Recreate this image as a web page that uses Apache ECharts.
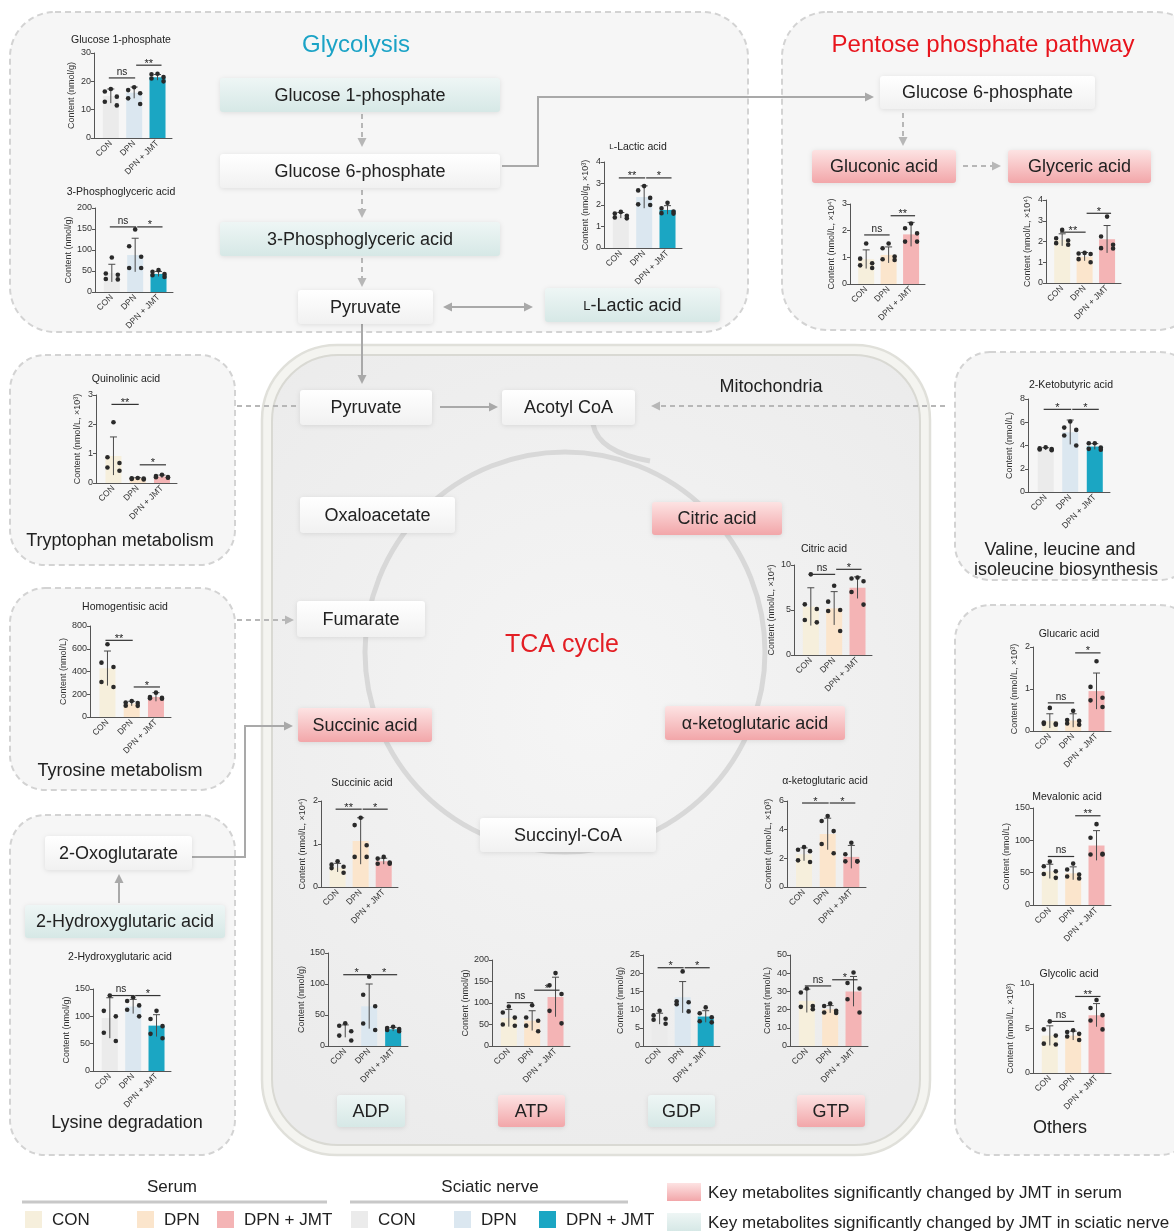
<!DOCTYPE html>
<html>
<head>
<meta charset="utf-8">
<title>Metabolic pathway overview</title>
<script src="https://cdn.jsdelivr.net/npm/echarts@6/dist/echarts.min.js"></script>
<style>
  html, body { margin: 0; padding: 0; background: #ffffff; }
  #main { width: 1174px; height: 1231px; }
</style>
</head>
<body>
<div id="main"></div>
<script>
// ---------- groups & palettes ----------
const GROUPS = ['CON', 'DPN', 'DPN + JMT'];
const SERUM = ['#f6efdc', '#fbe5cc', '#f4b4b5'];
const NERVE = ['#ebebeb', '#dbe7f0', '#1ba6c3'];

// ---------- measured values (mean, SD, individual animals, significance) ----------
// Glucose 1-phosphate, sciatic nerve (nmol/g)
const g1pMean = [14.8, 16.0, 21.4];
const g1pSd = [2.5, 2.0, 1.0];
const g1pDots = [[17.3, 16.4, 14.6, 12.8, 11.5], [17.9, 16.9, 15.8, 14.0, 12.0], [22.7, 22.5, 21.5, 21.0, 20.0]];
const g1pSig = ['ns', '**'];

// 3-Phosphoglyceric acid, sciatic nerve (nmol/g)
const pgaMean = [45, 88, 43];
const pgaSd = [21, 40, 6];
const pgaDots = [[82, 44, 41, 31, 30], [149, 109, 84, 57, 57], [52, 48, 43, 40, 36]];
const pgaSig = ['ns', '*'];

// L-Lactic acid, sciatic nerve (nmol/g, x10^3)
const lacMean = [1.52, 2.37, 1.77];
const lacSd = [0.13, 0.52, 0.2];
const lacDots = [[1.68, 1.6, 1.5, 1.42, 1.38], [2.88, 2.68, 2.33, 2.03, 2.0], [2.1, 1.85, 1.7, 1.62, 1.6]];
const lacSig = ['**', '*'];

// Gluconic acid, serum (nmol/L, x10^4)
const glnMean = [0.93, 1.09, 1.86];
const glnSd = [0.35, 0.3, 0.45];
const glnDots = [[1.52, 0.95, 0.78, 0.7, 0.6], [1.52, 1.34, 1.03, 0.93, 0.9], [2.27, 2.09, 1.9, 1.59, 1.59]];
const glnSig = ['ns', '**'];

// Glyceric acid, serum (nmol/L, x10^4)
const glyMean = [2.08, 1.27, 2.11];
const glySd = [0.29, 0.2, 0.66];
const glyDots = [[2.56, 2.16, 2.05, 1.92, 1.84], [1.45, 1.42, 1.4, 1.15, 1.0], [3.2, 2.24, 1.84, 1.68, 1.66]];
const glySig = ['**', '*'];

// Quinolinic acid, serum (nmol/L, x10^3)
const quiMean = [0.92, 0.15, 0.22];
const quiSd = [0.65, 0.03, 0.05];
const quiDots = [[2.07, 0.88, 0.68, 0.53, 0.42], [0.17, 0.16, 0.15, 0.14, 0.12], [0.28, 0.24, 0.2, 0.2, 0.18]];
const quiSig = ['**', '*'];

// Homogentisic acid, serum (nmol/L)
const hgaMean = [428, 118, 176];
const hgaSd = [152, 20, 38];
const hgaDots = [[639, 478, 440, 308, 264], [140, 128, 122, 100, 98], [214, 176, 168, 164, 160]];
const hgaSig = ['**', '*'];

// 2-Hydroxyglutaric acid, sciatic nerve (nmol/g)
const hgluMean = [97, 118, 83];
const hgluSd = [37, 13, 20];
const hgluDots = [[138, 110, 100, 70, 55], [135, 128, 120, 112, 100], [110, 95, 82, 68, 60]];
const hgluSig = ['ns', '*'];

// 2-Ketobutyric acid, sciatic nerve (nmol/L)
const kbaMean = [3.71, 5.14, 3.91];
const kbaSd = [0.1, 1.05, 0.25];
const kbaDots = [[3.85, 3.75, 3.7, 3.65, 3.6], [6.06, 5.54, 5.34, 4.86, 4.0], [4.2, 4.2, 3.83, 3.71, 3.63]];
const kbaSig = ['*', '*'];

// Citric acid, serum (nmol/L, x10^4)
const citMean = [5.37, 5.19, 7.48];
const citSd = [2.1, 1.85, 1.2];
const citDots = [[8.96, 5.63, 5.11, 3.89, 3.63], [7.7, 5.93, 5.0, 4.89, 2.67], [8.6, 8.5, 8.2, 7.0, 5.6]];
const citSig = ['ns', '*'];

// Glucaric acid, serum (nmol/L, x10^3)
const gcaMean = [0.24, 0.25, 0.95];
const gcaSd = [0.17, 0.16, 0.43];
const gcaDots = [[0.55, 0.2, 0.18, 0.17, 0.15], [0.48, 0.26, 0.24, 0.18, 0.15], [1.66, 1.05, 0.79, 0.73, 0.57]];
const gcaSig = ['ns', '*'];

// Mevalonic acid, serum (nmol/L)
const mevMean = [52, 49, 92];
const mevSd = [11, 10, 23];
const mevDots = [[67, 60, 52, 48, 42], [64, 55, 47, 44, 41], [125, 104, 79, 78, 78]];
const mevSig = ['ns', '**'];

// Glycolic acid, serum (nmol/L, x10^3)
const glcMean = [4.2, 4.2, 6.5];
const glcSd = [1.1, 0.5, 1.3];
const glcDots = [[5.8, 4.9, 4.2, 3.3, 3.2], [4.8, 4.6, 4.4, 4.1, 3.7], [8.2, 7.3, 6.5, 5.9, 4.9]];
const glcSig = ['ns', '**'];

// Succinic acid, serum (nmol/L, x10^4)
const sucMean = [0.45, 1.07, 0.6];
const sucSd = [0.1, 0.54, 0.07];
const sucDots = [[0.6, 0.52, 0.47, 0.44, 0.33], [1.61, 1.44, 0.97, 0.7, 0.7], [0.7, 0.66, 0.57, 0.54, 0.54]];
const sucSig = ['**', '*'];

// alpha-ketoglutaric acid, serum (nmol/L, x10^3)
const akgMean = [2.28, 3.7, 2.1];
const akgSd = [0.45, 1.1, 0.8];
const akgDots = [[2.79, 2.6, 2.5, 1.86, 1.74], [4.95, 4.6, 3.9, 3.0, 2.35], [3.09, 2.28, 1.79, 1.79, 1.79]];
const akgSig = ['*', '*'];

// ADP, sciatic nerve (nmol/g)
const adpMean = [24, 64, 27];
const adpSd = [10, 36, 3];
const adpDots = [[36.8, 32.6, 23.7, 16.8, 8.9], [111.6, 82.6, 64.2, 36.3, 25.8], [31, 28.9, 27.4, 25.8, 23.7]];
const adpSig = ['*', '*'];

// ATP, serum (nmol/g)
const atpMean = [65, 59, 114];
const atpSd = [20, 23, 46];
const atpDots = [[92, 78, 66, 50, 47], [94.7, 66.4, 58.8, 47.3, 34.4], [169.5, 141, 121, 81.7, 52.7]];
const atpSig = ['ns', '*'];

// GDP, sciatic nerve (nmol/g)
const gdpMean = [7.5, 13.4, 8.1];
const gdpSd = [1.5, 4.3, 1.6];
const gdpDots = [[9.7, 8.4, 7.5, 7.2, 6.1], [20.5, 12.3, 12.0, 11.5, 9.5], [10.6, 9.0, 7.9, 6.8, 6.5]];
const gdpSig = ['*', '*'];

// GTP, serum (nmol/L)
const gtpMean = [24.8, 20.2, 30];
const gtpSd = [6.4, 2.0, 8.2];
const gtpDots = [[31.6, 29.4, 22, 21.5, 20.2], [23.3, 22, 19.3, 18.4, 18.2], [40.4, 34.6, 31.6, 25.7, 18.4]];
const gtpSig = ['ns', '*'];

// ---------- panel layout (plot rectangle in px, axis range, bracket heights) ----------
const U_G = 'Content (nmol/g)';
const U_L = 'Content (nmol/L)';
const panels = [
  { title: 'Glucose 1-phosphate', tx: 121, ty: 40, l: 94, r: 172, t: 53, b: 138, max: 30, step: 10, unit: U_G, pal: NERVE, mean: g1pMean, sd: g1pSd, dots: g1pDots, sig: g1pSig, lv: [21.2, 25.7] },
  { title: '3-Phosphoglyceric acid', tx: 121, ty: 192, l: 95, r: 173, t: 208, b: 292, max: 200, step: 50, unit: U_G, pal: NERVE, mean: pgaMean, sd: pgaSd, dots: pgaDots, sig: pgaSig, lv: [155, 155] },
  { title: '{sc|L}-Lactic acid', tx: 638, ty: 147, l: 604, r: 682, t: 162, b: 248, max: 4, step: 1, unit: 'Content (nmol/g, ×10³)', pal: NERVE, mean: lacMean, sd: lacSd, dots: lacDots, sig: lacSig, lv: [3.26, 3.26] },
  { title: '', l: 850, r: 925, t: 204, b: 284, max: 3, step: 1, unit: 'Content (nmol/L, ×10⁴)', pal: SERUM, mean: glnMean, sd: glnSd, dots: glnDots, sig: glnSig, lv: [1.84, 2.56] },
  { title: '', l: 1046, r: 1121, t: 200, b: 283, max: 4, step: 1, unit: 'Content (nmol/L, ×10⁴)', pal: SERUM, mean: glyMean, sd: glySd, dots: glyDots, sig: glySig, lv: [2.45, 3.36] },
  { title: 'Quinolinic acid', tx: 126, ty: 379, l: 96, r: 177, t: 395, b: 483, max: 3, step: 1, unit: 'Content (nmol/L, ×10³)', pal: SERUM, mean: quiMean, sd: quiSd, dots: quiDots, sig: quiSig, lv: [2.68, 0.62] },
  { title: 'Homogentisic acid', tx: 125, ty: 607, l: 90, r: 171, t: 626, b: 717, max: 800, step: 200, unit: U_L, pal: SERUM, mean: hgaMean, sd: hgaSd, dots: hgaDots, sig: hgaSig, lv: [674, 264] },
  { title: '2-Hydroxyglutaric acid', tx: 120, ty: 957, l: 93, r: 171, t: 989, b: 1071, max: 150, step: 50, unit: U_G, pal: NERVE, mean: hgluMean, sd: hgluSd, dots: hgluDots, sig: hgluSig, lv: [138, 138] },
  { title: '2-Ketobutyric acid', tx: 1071, ty: 385, l: 1028, r: 1110, t: 399, b: 492, max: 8, step: 2, unit: U_L, pal: NERVE, mean: kbaMean, sd: kbaSd, dots: kbaDots, sig: kbaSig, lv: [7.11, 7.11] },
  { title: 'Citric acid', tx: 824, ty: 549, l: 794, r: 872, t: 565, b: 655, max: 10, step: 5, unit: 'Content (nmol/L, ×10⁴)', pal: SERUM, mean: citMean, sd: citSd, dots: citDots, sig: citSig, lv: [8.96, 9.52] },
  { title: 'Glucaric acid', tx: 1069, ty: 634, l: 1033, r: 1111, t: 647, b: 731, max: 2, step: 1, unit: 'Content (nmol/L, ×10³)', pal: SERUM, mean: gcaMean, sd: gcaSd, dots: gcaDots, sig: gcaSig, lv: [0.67, 1.86] },
  { title: 'Mevalonic acid', tx: 1067, ty: 797, l: 1033, r: 1111, t: 808, b: 905, max: 150, step: 50, unit: U_L, pal: SERUM, mean: mevMean, sd: mevSd, dots: mevDots, sig: mevSig, lv: [75, 138] },
  { title: 'Glycolic acid', tx: 1069, ty: 974, l: 1033, r: 1111, t: 984, b: 1073, max: 10, step: 5, unit: 'Content (nmol/L, ×10³)', pal: SERUM, mean: glcMean, sd: glcSd, dots: glcDots, sig: glcSig, lv: [5.8, 8.6] },
  { title: 'Succinic acid', tx: 362, ty: 783, l: 321, r: 398, t: 801, b: 887, max: 2, step: 1, unit: 'Content (nmol/L, ×10⁴)', pal: SERUM, mean: sucMean, sd: sucSd, dots: sucDots, sig: sucSig, lv: [1.81, 1.81] },
  { title: 'α-ketoglutaric acid', tx: 825, ty: 781, l: 787, r: 866, t: 801, b: 887, max: 6, step: 2, unit: 'Content (nmol/L, ×10³)', pal: SERUM, mean: akgMean, sd: akgSd, dots: akgDots, sig: akgSig, lv: [5.86, 5.86] },
  { title: '', l: 328, r: 408, t: 953, b: 1046, max: 150, step: 50, unit: U_G, pal: NERVE, mean: adpMean, sd: adpSd, dots: adpDots, sig: adpSig, lv: [115, 115] },
  { title: '', l: 492, r: 570, t: 960, b: 1046, max: 200, step: 50, unit: U_G, pal: SERUM, mean: atpMean, sd: atpSd, dots: atpDots, sig: atpSig, lv: [100.8, 129.8] },
  { title: '', l: 643, r: 720, t: 955, b: 1046, max: 25, step: 5, unit: U_G, pal: NERVE, mean: gdpMean, sd: gdpSd, dots: gdpDots, sig: gdpSig, lv: [21.5, 21.5] },
  { title: '', l: 790, r: 868, t: 955, b: 1046, max: 50, step: 10, unit: U_L, pal: SERUM, mean: gtpMean, sd: gtpSd, dots: gtpDots, sig: gtpSig, lv: [33, 36.4] }
];

const FONT = '"Liberation Sans", Arial, Helvetica, sans-serif';
const INK = '#222222';
const AXIS = '#555555';
const JITTER = [0, -6, 6, -6, 6];
const BAR_W = 16;
// group positions on the x axis sit at 0, 1, 2; the range leaves GraphPad-style margins
const X_MIN = -0.72, X_MAX = 2.62;

// ---------- build the small bar charts ----------
const grids = [], xAxes = [], yAxes = [], series = [];

panels.forEach((p, gi) => {
  grids.push({ left: p.l, top: p.t, width: p.r - p.l, height: p.b - p.t, containLabel: false, outerBoundsMode: 'none' });
  xAxes.push({
    gridIndex: gi, type: 'value', min: X_MIN, max: X_MAX,
    axisLine: { show: true, onZero: false, lineStyle: { color: AXIS, width: 1 } },
    axisTick: { show: false },
    axisLabel: { customValues: [0, 1, 2], formatter: v => GROUPS[Math.round(v)] || '',
                 rotate: 45, fontSize: 8.5, margin: 4, color: '#333', fontFamily: FONT, hideOverlap: false },
    splitLine: { show: false }
  });
  const digits = String(p.max).length;
  yAxes.push({
    gridIndex: gi, type: 'value', min: 0, max: p.max, interval: p.step,
    name: p.unit, nameLocation: 'middle', nameRotate: 90,
    nameGap: digits === 1 ? 14 : (digits === 2 ? 18 : 22),
    nameTextStyle: { fontSize: 9, color: '#333', fontFamily: FONT },
    axisLine: { show: true, onZero: false, lineStyle: { color: AXIS, width: 1 } },
    axisTick: { show: true, length: 3, lineStyle: { color: AXIS } },
    axisLabel: { fontSize: 9, margin: 3, color: '#333', fontFamily: FONT, hideOverlap: false },
    splitLine: { show: false }
  });

  // mean bars
  series.push({
    type: 'custom', xAxisIndex: gi, yAxisIndex: gi, silent: true, z: 2, clip: false,
    data: p.mean.map((m, i) => [i, m]),
    renderItem: (params, api) => {
      const i = api.value(0);
      const top = api.coord([i, api.value(1)]), base = api.coord([i, 0]);
      return { type: 'rect', shape: { x: top[0] - BAR_W / 2, y: top[1], width: BAR_W, height: base[1] - top[1] },
               style: { fill: p.pal[i] } };
    }
  });

  // SD error bars
  series.push({
    type: 'custom', xAxisIndex: gi, yAxisIndex: gi, silent: true, z: 3, clip: false,
    data: p.mean.map((m, i) => [i, m, p.sd[i]]),
    renderItem: (params, api) => {
      const i = api.value(0), m = api.value(1), s = api.value(2);
      const top = api.coord([i, m + s]);
      const bot = api.coord([i, Math.max(0, m - s)]);
      const ln = { stroke: '#4a4a4a', lineWidth: 1 };
      return { type: 'group', children: [
        { type: 'line', shape: { x1: top[0], y1: top[1], x2: bot[0], y2: bot[1] }, style: ln },
        { type: 'line', shape: { x1: top[0] - 3.5, y1: top[1], x2: top[0] + 3.5, y2: top[1] }, style: ln }
      ] };
    }
  });

  // individual animals
  const pts = [];
  p.dots.forEach((arr, i) => arr.forEach((v, k) => pts.push([i, v, k])));
  series.push({
    type: 'custom', xAxisIndex: gi, yAxisIndex: gi, silent: true, z: 4, clip: false,
    data: pts,
    renderItem: (params, api) => {
      const c = api.coord([api.value(0), api.value(1)]);
      return { type: 'circle', shape: { cx: c[0] + JITTER[api.value(2)], cy: c[1], r: 2.3 }, style: { fill: '#2a2a2a' } };
    }
  });

  // significance brackets (CON vs DPN, DPN vs DPN + JMT)
  series.push({
    type: 'custom', xAxisIndex: gi, yAxisIndex: gi, silent: true, z: 4, clip: false,
    data: [[0, p.lv[0], 1], [1, p.lv[1], 2]],
    renderItem: (params, api) => {
      const a = api.coord([api.value(0), api.value(1)]);
      const b = api.coord([api.value(2), api.value(1)]);
      const lab = p.sig[params.dataIndex];
      const star = lab !== 'ns';
      const x1 = a[0] + (params.dataIndex === 0 ? -2 : 2), x2 = b[0] + (params.dataIndex === 0 ? 1 : 4);
      return { type: 'group', children: [
        { type: 'line', shape: { x1: x1, y1: a[1], x2: x2, y2: a[1] }, style: { stroke: '#333', lineWidth: 1.2 } },
        { type: 'text', x: (x1 + x2) / 2, y: a[1] + (star ? 4 : -1),
          style: { text: lab, fontSize: star ? 11 : 10, fill: '#222', fontFamily: FONT,
                   align: 'center', textAlign: 'center', verticalAlign: 'bottom', textVerticalAlign: 'bottom' } }
      ] };
    }
  });
});

// ---------- diagram graphics ----------
const G = [];
function txt(x, y, text, size, color, extra) {
  G.push({ type: 'text', z: -5, x: x, y: y, silent: true,
    style: Object.assign({ text: text, fontSize: size, fill: color || INK, fontFamily: FONT,
      align: 'center', textAlign: 'center', verticalAlign: 'middle', textVerticalAlign: 'middle' }, extra || {}) });
}
function panelBox(x, y, w, h, r) {
  G.push({ type: 'rect', z: -40, silent: true, shape: { x: x, y: y, width: w, height: h, r: r },
    style: { fill: '#f6f6f6', stroke: '#d3d3d3', lineWidth: 2, lineDash: [6, 4] } });
}
const FILLS = {
  white: { type: 'linear', x: 0, y: 0, x2: 0, y2: 1, colorStops: [{ offset: 0, color: '#ffffff' }, { offset: 1, color: '#f1f1f1' }] },
  teal: { type: 'linear', x: 0, y: 0, x2: 0, y2: 1, colorStops: [{ offset: 0, color: '#eef6f5' }, { offset: 1, color: '#d6e8e6' }] },
  pink: { type: 'linear', x: 0, y: 0, x2: 0, y2: 1, colorStops: [{ offset: 0, color: '#fde3e3' }, { offset: 1, color: '#f2a6a9' }] }
};
const SC_RICH = { sc: { fontSize: 13, fontFamily: FONT, fill: INK } };
function node(x, y, w, h, text, kind) {
  G.push({ type: 'rect', z: -10, silent: true, shape: { x: x, y: y, width: w, height: h, r: 3 },
    style: { fill: FILLS[kind], shadowBlur: 5, shadowColor: 'rgba(0,0,0,0.10)', shadowOffsetY: 1 } });
  txt(x + w / 2, y + h / 2 + 1, text, 18, INK, { rich: SC_RICH });
}
function head(a, b, color) {
  const dx = b[0] - a[0], dy = b[1] - a[1], len = Math.hypot(dx, dy);
  const ux = dx / len, uy = dy / len, L = 9, W = 4.5;
  const bx = b[0] - ux * L, by = b[1] - uy * L;
  G.push({ type: 'polygon', z: -12, silent: true,
    shape: { points: [[b[0], b[1]], [bx - uy * W, by + ux * W], [bx + uy * W, by - ux * W]] },
    style: { fill: color } });
}
function arrow(pts, opt) {
  const o = Object.assign({ color: '#a9a9a9', dash: null, both: false }, opt || {});
  const q = pts.map(p => p.slice());
  const shorten = (from, to) => {
    const dx = to[0] - from[0], dy = to[1] - from[1], len = Math.hypot(dx, dy);
    return [to[0] - dx / len * 7, to[1] - dy / len * 7];
  };
  q[q.length - 1] = shorten(pts[pts.length - 2], pts[pts.length - 1]);
  if (o.both) q[0] = shorten(pts[1], pts[0]);
  G.push({ type: 'polyline', z: -12, silent: true, shape: { points: q },
    style: { stroke: o.color, lineWidth: 2, lineDash: o.dash, fill: null } });
  head(pts[pts.length - 2], pts[pts.length - 1], o.color);
  if (o.both) head(pts[1], pts[0], o.color);
}
const DASH = { color: '#b7b7b7', dash: [5, 4] };

// pathway panels
panelBox(10, 12, 738, 320, 45);
panelBox(782, 12, 420, 318, 45);
panelBox(10, 355, 225, 210, 35);
panelBox(10, 588, 225, 202, 35);
panelBox(10, 815, 225, 340, 35);
panelBox(955, 352, 240, 228, 35);
panelBox(955, 605, 240, 550, 35);

// mitochondrion (double membrane)
G.push({ type: 'rect', z: -35, silent: true, shape: { x: 262, y: 345, width: 668, height: 810, r: 75 },
  style: { fill: '#f4f4f0', stroke: '#e0e0da', lineWidth: 2.5 } });
G.push({ type: 'rect', z: -34, silent: true, shape: { x: 272, y: 355, width: 648, height: 790, r: 66 },
  style: { fill: { type: 'radial', x: 0.5, y: 0.45, r: 0.75, colorStops: [{ offset: 0, color: '#f5f5f5' }, { offset: 1, color: '#ebebeb' }] },
           stroke: '#d9d9d3', lineWidth: 2 } });

// TCA cycle ring and acetyl-CoA entry
G.push({ type: 'circle', z: -20, silent: true, shape: { cx: 565, cy: 652, r: 200 }, style: { fill: null, stroke: '#d8d8d8', lineWidth: 5 } });
G.push({ type: 'bezierCurve', z: -20, silent: true, shape: { x1: 593, y1: 424, cpx1: 598, cpy1: 452, x2: 650, y2: 461 },
  style: { fill: null, stroke: '#d8d8d8', lineWidth: 5 } });

// headings
txt(356, 45, 'Glycolysis', 24, '#1ba3c6');
txt(983, 45, 'Pentose phosphate pathway', 24, '#e8141c');
txt(771, 387, 'Mitochondria', 18, INK);
txt(562, 645, 'TCA cycle', 25, '#e31e24');
txt(120, 541, 'Tryptophan metabolism', 18, INK);
txt(120, 771, 'Tyrosine metabolism', 18, INK);
txt(127, 1123, 'Lysine degradation', 18, INK);
txt(1060, 550, 'Valine, leucine and', 18, INK);
txt(1066, 570, 'isoleucine biosynthesis', 18, INK);
txt(1060, 1128, 'Others', 18, INK);

// glycolysis
node(220, 78, 280, 34, 'Glucose 1-phosphate', 'teal');
node(220, 154, 280, 34, 'Glucose 6-phosphate', 'white');
node(220, 222, 280, 34, '3-Phosphoglyceric acid', 'teal');
node(298, 290, 135, 34, 'Pyruvate', 'white');
node(545, 288, 175, 34, '{sc|L}-Lactic acid', 'teal');
arrow([[362, 114], [362, 147]], DASH);
arrow([[362, 190], [362, 218]], DASH);
arrow([[362, 258], [362, 287]], DASH);
arrow([[502, 166], [538, 166], [538, 97], [874, 97]]);
arrow([[443, 307], [533, 307]], { both: true });
arrow([[362, 324], [362, 384]]);

// pentose phosphate pathway
node(880, 76, 215, 33, 'Glucose 6-phosphate', 'white');
node(812, 150, 144, 33, 'Gluconic acid', 'pink');
node(1008, 150, 143, 33, 'Glyceric acid', 'pink');
arrow([[903, 113], [903, 146]], DASH);
arrow([[963, 166], [1001, 166]], DASH);

// mitochondrial nodes
node(300, 390, 132, 35, 'Pyruvate', 'white');
node(502, 390, 133, 35, 'Acotyl CoA', 'white');
node(300, 497, 155, 36, 'Oxaloacetate', 'white');
node(652, 502, 130, 33, 'Citric acid', 'pink');
node(297, 601, 128, 36, 'Fumarate', 'white');
node(298, 708, 134, 34, 'Succinic acid', 'pink');
node(665, 706, 180, 34, 'α-ketoglutaric acid', 'pink');
node(480, 818, 176, 34, 'Succinyl-CoA', 'white');
node(337, 1095, 68, 32, 'ADP', 'teal');
node(498, 1095, 67, 32, 'ATP', 'pink');
node(648, 1095, 67, 32, 'GDP', 'teal');
node(797, 1095, 68, 32, 'GTP', 'pink');
arrow([[440, 407], [498, 407]]);
arrow([[237, 406], [309, 406]], DASH);
arrow([[945, 406], [651, 406]], DASH);
arrow([[237, 620], [294, 620]], DASH);

// lysine degradation
node(45, 836, 147, 34, '2-Oxoglutarate', 'white');
node(25, 905, 200, 33, '2-Hydroxyglutaric acid', 'teal');
arrow([[192, 857], [245, 857], [245, 726], [293, 726]]);
arrow([[119, 903], [119, 874]]);

// chart titles
panels.forEach(p => { if (p.title) txt(p.tx, p.ty, p.title, 10.5, INK, { rich: { sc: { fontSize: 8, fontFamily: FONT, fill: INK } } }); });

// legend
txt(172, 1187, 'Serum', 17, INK);
txt(490, 1187, 'Sciatic nerve', 17, INK);
G.push({ type: 'line', z: -5, silent: true, shape: { x1: 22, y1: 1202, x2: 327, y2: 1202 }, style: { stroke: '#c8c8c8', lineWidth: 3 } });
G.push({ type: 'line', z: -5, silent: true, shape: { x1: 350, y1: 1202, x2: 628, y2: 1202 }, style: { stroke: '#c8c8c8', lineWidth: 3 } });
const legendItems = [
  [25, SERUM[0], 'CON'], [137, SERUM[1], 'DPN'], [217, SERUM[2], 'DPN + JMT'],
  [351, NERVE[0], 'CON'], [454, NERVE[1], 'DPN'], [539, NERVE[2], 'DPN + JMT']
];
legendItems.forEach(([x, c, t]) => {
  G.push({ type: 'rect', z: -5, silent: true, shape: { x: x, y: 1211, width: 17, height: 17 }, style: { fill: c } });
  txt(x + 27, 1220, t, 17, INK, { align: 'left', textAlign: 'left' });
});
G.push({ type: 'rect', z: -5, silent: true, shape: { x: 667, y: 1183, width: 34, height: 18 }, style: { fill: FILLS.pink } });
G.push({ type: 'rect', z: -5, silent: true, shape: { x: 667, y: 1213, width: 34, height: 18 }, style: { fill: FILLS.teal } });
txt(708, 1193, 'Key metabolites significantly changed by JMT in serum', 17, INK, { align: 'left', textAlign: 'left' });
txt(708, 1223, 'Key metabolites significantly changed by JMT in sciatic nerve', 17, INK, { align: 'left', textAlign: 'left' });

// ---------- render ----------
const chart = echarts.init(document.getElementById('main'), null, { renderer: 'canvas' });
chart.setOption({
  backgroundColor: '#ffffff',
  animation: false,
  textStyle: { fontFamily: FONT },
  grid: grids,
  xAxis: xAxes,
  yAxis: yAxes,
  series: series,
  graphic: { elements: G }
});
</script>
</body>
</html>
